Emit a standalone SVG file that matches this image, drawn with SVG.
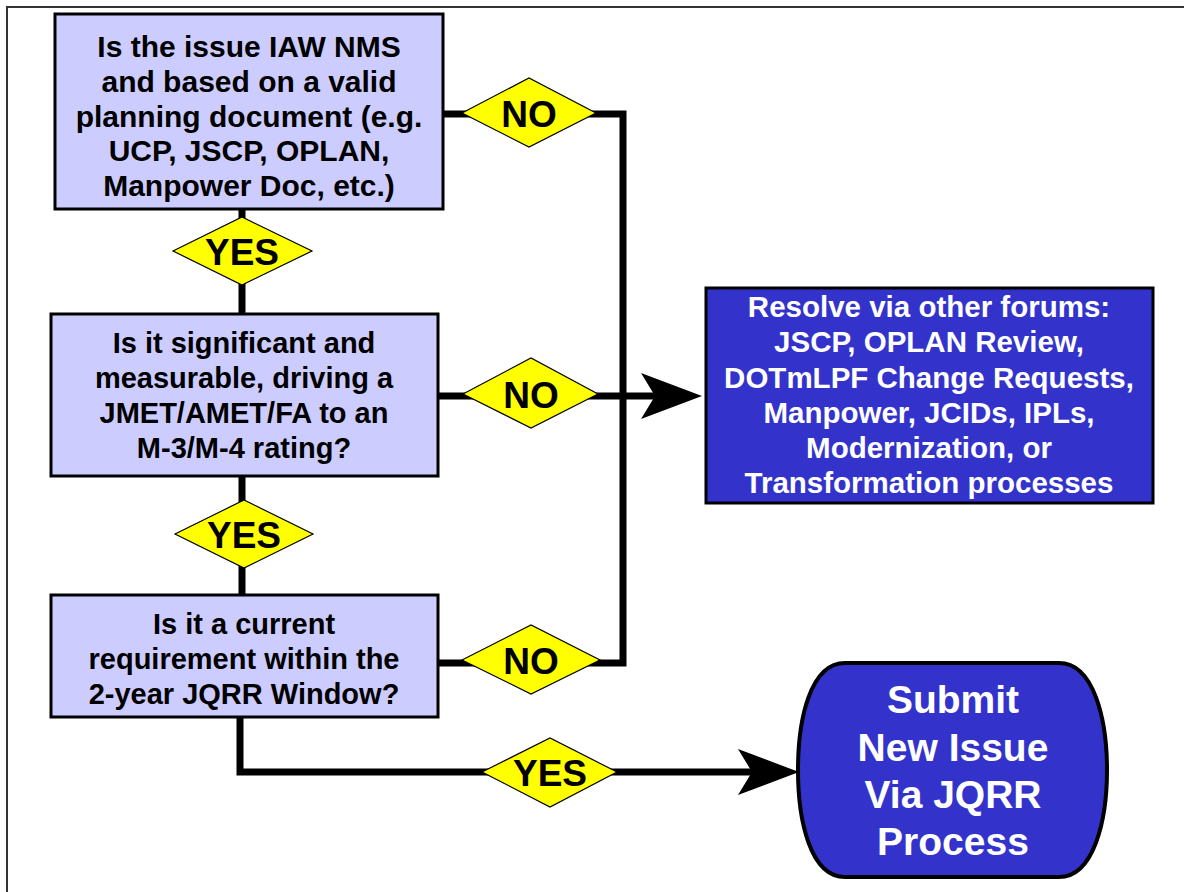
<svg xmlns="http://www.w3.org/2000/svg" width="1184" height="892" viewBox="0 0 1184 892">
  <style>
    .q { fill: #ccccff; stroke: #000; stroke-width: 3; }
    .r { fill: #3333cc; stroke: #000; stroke-width: 3; }
    .dia { fill: #ffff00; stroke: #000; stroke-width: 1.2; }
    .t { font-family: "Liberation Sans", Arial, sans-serif; font-weight: bold; text-anchor: middle; }
    .qt { font-size: 29px; fill: #000; }
    .big { font-size: 30px; }
    .wt { font-size: 29.5px; fill: #fff; }
    .st { font-size: 39px; fill: #fff; }
    .lt { font-size: 37px; fill: #000; }
    .wire { fill: none; stroke: #000; stroke-width: 7; stroke-linejoin: miter; }
  </style>
  <defs>
    <marker id="arrow" markerUnits="userSpaceOnUse" markerWidth="62" markerHeight="46" viewBox="0 0 62 46" refX="14" refY="23" orient="auto">
      <path d="M0,0 L61,23 L0,46 L14,23 Z" fill="#000"/>
    </marker>
  </defs>

  <rect width="1184" height="892" fill="#fff"/>
  <!-- page frame -->
  <path d="M7,892 V7 H1184" fill="none" stroke="#333" stroke-width="2"/>

  <!-- connectors -->
  <g id="connectors">
    <path class="wire" d="M443,114 H623 V663 H437"/>
    <path class="wire" d="M437,396 H655" marker-end="url(#arrow)"/>
    <path class="wire" d="M242,209 V314"/>
    <path class="wire" d="M242,476 V595"/>
    <path class="wire" d="M240,717 V772 H752" marker-end="url(#arrow)"/>
  </g>

  <g id="q1">
    <rect class="q" x="55" y="14" width="388" height="195"/>
    <text class="t qt big" x="249" y="57">Is the issue IAW NMS</text>
    <text class="t qt big" x="249" y="92">and based on a valid</text>
    <text class="t qt big" x="249" y="127">planning document (e.g.</text>
    <text class="t qt big" x="249" y="161">UCP, JSCP, OPLAN,</text>
    <text class="t qt big" x="249" y="196">Manpower Doc, etc.)</text>
  </g>

  <g id="q2">
    <rect class="q" x="51" y="314" width="387" height="162"/>
    <text class="t qt" x="244" y="353">Is it significant and</text>
    <text class="t qt" x="244" y="388">measurable, driving a</text>
    <text class="t qt" x="244" y="423">JMET/AMET/FA to an</text>
    <text class="t qt" x="244" y="458">M-3/M-4 rating?</text>
  </g>

  <g id="q3">
    <rect class="q" x="51" y="595" width="387" height="122"/>
    <text class="t qt" x="244" y="634">Is it a current</text>
    <text class="t qt" x="244" y="669">requirement within the</text>
    <text class="t qt" x="244" y="704">2-year JQRR Window?</text>
  </g>

  <g id="resolve">
    <rect class="r" x="706" y="288" width="447" height="215"/>
    <text class="t wt" x="929" y="317">Resolve via other forums:</text>
    <text class="t wt" x="929" y="352">JSCP, OPLAN Review,</text>
    <text class="t wt" x="929" y="388">DOTmLPF Change Requests,</text>
    <text class="t wt" x="929" y="423">Manpower, JCIDs, IPLs,</text>
    <text class="t wt" x="929" y="458">Modernization, or</text>
    <text class="t wt" x="929" y="493">Transformation processes</text>
  </g>

  <g id="submit">
    <path class="r" style="stroke-width:4" d="M845,663 H1059 C1094,663 1107,720 1107,770 C1107,820 1094,877 1059,877 H845 C810,877 798,820 798,770 C798,720 810,663 845,663 Z"/>
    <text class="t st" x="953" y="713">Submit</text>
    <text class="t st" x="953" y="761">New Issue</text>
    <text class="t st" x="953" y="808">Via JQRR</text>
    <text class="t st" x="953" y="855">Process</text>
  </g>

  <g id="no1">
    <polygon class="dia" points="462,113 529,78 596,113 529,147"/>
    <text class="t lt" x="529" y="127">NO</text>
  </g>
  <g id="no2">
    <polygon class="dia" points="463,394 531,358 598,394 531,428"/>
    <text class="t lt" x="531" y="408">NO</text>
  </g>
  <g id="no3">
    <polygon class="dia" points="462,660 531,625 600,660 531,694"/>
    <text class="t lt" x="531" y="674">NO</text>
  </g>
  <g id="yes1">
    <polygon class="dia" points="173,251 242,217 312,251 242,285"/>
    <text class="t lt" x="242" y="265">YES</text>
  </g>
  <g id="yes2">
    <polygon class="dia" points="175,534 244,500 313,534 244,568"/>
    <text class="t lt" x="244" y="548">YES</text>
  </g>
  <g id="yes3">
    <polygon class="dia" points="482,772 550,738 617,772 550,807"/>
    <text class="t lt" x="550" y="786">YES</text>
  </g>
</svg>
